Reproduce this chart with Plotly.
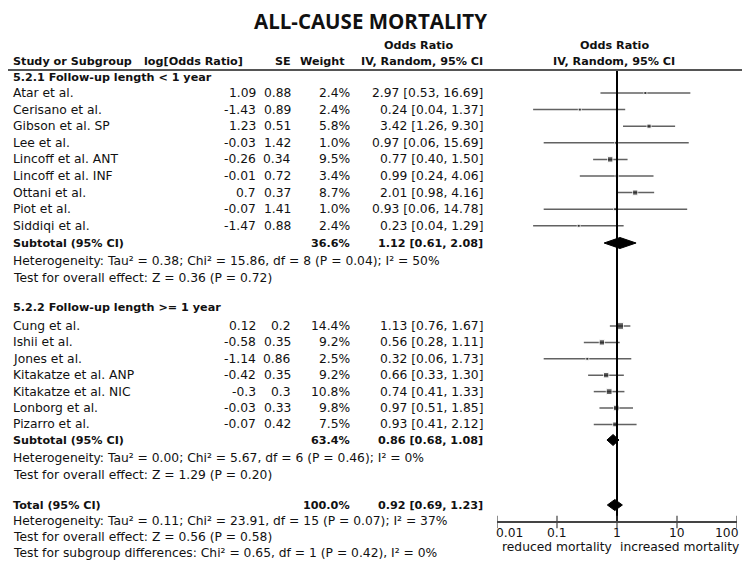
import math
import plotly.graph_objects as go

# ---------------- data ----------------
title = "ALL-CAUSE MORTALITY"

g1_label = "5.2.1 Follow-up length < 1 year"
g1_studies = ["Atar et al.", "Cerisano et al.", "Gibson et al. SP", "Lee et al.",
              "Lincoff et al. ANT", "Lincoff et al. INF", "Ottani et al.", "Piot et al.",
              "Siddiqi et al."]
g1_logor = [1.09, -1.43, 1.23, -0.03, -0.26, -0.01, 0.7, -0.07, -1.47]
g1_se = [0.88, 0.89, 0.51, 1.42, 0.34, 0.72, 0.37, 1.41, 0.88]
g1_weight = [2.4, 2.4, 5.8, 1.0, 9.5, 3.4, 8.7, 1.0, 2.4]
g1_or = [2.97, 0.24, 3.42, 0.97, 0.77, 0.99, 2.01, 0.93, 0.23]
g1_lo = [0.53, 0.04, 1.26, 0.06, 0.40, 0.24, 0.98, 0.06, 0.04]
g1_hi = [16.69, 1.37, 9.30, 15.69, 1.50, 4.06, 4.16, 14.78, 1.29]
g1_sub = {"weight": 36.6, "or": 1.12, "lo": 0.61, "hi": 2.08}
g1_het = "Heterogeneity: Tau² = 0.38; Chi² = 15.86, df = 8 (P = 0.04); I² = 50%"
g1_test = "Test for overall effect: Z = 0.36 (P = 0.72)"

g2_label = "5.2.2 Follow-up length >= 1 year"
g2_studies = ["Cung et al.", "Ishii et al.", "Jones et al.", "Kitakatze et al. ANP",
              "Kitakatze et al. NIC", "Lonborg et al.", "Pizarro et al."]
g2_logor = [0.12, -0.58, -1.14, -0.42, -0.3, -0.03, -0.07]
g2_se = [0.2, 0.35, 0.86, 0.35, 0.3, 0.33, 0.42]
g2_weight = [14.4, 9.2, 2.5, 9.2, 10.8, 9.8, 7.5]
g2_or = [1.13, 0.56, 0.32, 0.66, 0.74, 0.97, 0.93]
g2_lo = [0.76, 0.28, 0.06, 0.33, 0.41, 0.51, 0.41]
g2_hi = [1.67, 1.11, 1.73, 1.30, 1.33, 1.85, 2.12]
g2_sub = {"weight": 63.4, "or": 0.86, "lo": 0.68, "hi": 1.08}
g2_het = "Heterogeneity: Tau² = 0.00; Chi² = 5.67, df = 6 (P = 0.46); I² = 0%"
g2_test = "Test for overall effect: Z = 1.29 (P = 0.20)"

total = {"weight": 100.0, "or": 0.92, "lo": 0.69, "hi": 1.23}
total_het = "Heterogeneity: Tau² = 0.11; Chi² = 23.91, df = 15 (P = 0.07); I² = 37%"
total_test = "Test for overall effect: Z = 0.56 (P = 0.58)"
subgroup_test = "Test for subgroup differences: Chi² = 0.65, df = 1 (P = 0.42), I² = 0%"

tick_vals = [0.01, 0.1, 1, 10, 100]
tick_text = ["0.01", "0.1", "1", "10", "100"]
favours_left = "reduced mortality"
favours_right = "increased mortality"

# ---------------- layout (positions in page pixels) ----------------
PAGE_W, PAGE_H = 750, 565
OFF = 8                       # the page body margin the figure sits in
W, H = PAGE_W - OFF, PAGE_H - OFF
FONT = "DejaVu Sans"
FS = 12.3
FSB = 11.2
TXT = "#111111"
X_NAME, X_LOGOR, X_SE, X_W, X_CI = 11, 258, 293, 352, 485
X_HDR_CI, X_HDR_PLOT = 418, 614

Y_TITLE, Y_HDR1, Y_HDR2, Y_LINE = 21, 45, 61, 70
Y_G1LAB = 77
Y_G1 = [93 + i * 16.6 for i in range(len(g1_studies))]
Y_SUB1, Y_HET1, Y_TEST1 = 243, 261, 278
Y_G2LAB = 307
Y_G2 = [326 + i * 16.4 for i in range(len(g2_studies))]
Y_SUB2, Y_HET2, Y_TEST2 = 440, 458, 475
Y_TOT, Y_HETT, Y_TESTT, Y_SUBG = 505, 521, 537, 553
Y_AXIS, Y_TICKLAB, Y_FAV = 522, 533, 547
DIAMOND_H = 5.5
PLOT_X0, PLOT_X1 = 497, 737


def px(x):
    return (x - OFF) / W


fig = go.Figure()
ann = []


def txt(x, y, s, anchor="left", bold=False, size=None, family=FONT):
    if size is None:
        size = FSB if bold else FS
    ann.append(dict(x=px(x), y=y, xref="paper", yref="y", text=("<b>%s</b>" % s) if bold else s,
                    showarrow=False, xanchor=anchor, yanchor="middle",
                    font=dict(family=family, size=size, color=TXT)))


def fmt_ci(o, l, h):
    return "%.2f [%.2f, %.2f]" % (o, l, h)


# title + header
txt(370, Y_TITLE, title, anchor="center", bold=True, size=20.5, family="Open Sans")
txt(X_HDR_CI, Y_HDR1, "Odds Ratio", anchor="center", bold=True)
txt(X_HDR_PLOT, Y_HDR1, "Odds Ratio", anchor="center", bold=True)
txt(X_NAME, Y_HDR2, "Study or Subgroup", bold=True)
txt(245, Y_HDR2, "log[Odds Ratio]", anchor="right", bold=True)
txt(293, Y_HDR2, "SE", anchor="right", bold=True)
txt(347, Y_HDR2, "Weight", anchor="right", bold=True)
txt(X_CI, Y_HDR2, "IV, Random, 95% CI", anchor="right", bold=True)
txt(X_HDR_PLOT, Y_HDR2, "IV, Random, 95% CI", anchor="center", bold=True)


def diamond(s, y):
    fig.add_trace(go.Scatter(x=[s["lo"], s["or"], s["hi"], s["or"], s["lo"]],
                             y=[y, y - DIAMOND_H, y, y + DIAMOND_H, y],
                             mode="lines", fill="toself", fillcolor="black",
                             line=dict(color="black", width=1), showlegend=False))


def group(label, ylab, names, lor, se, w, o, lo, hi, ys, sub, ysub, het, yhet, test, ytest):
    txt(X_NAME, ylab, label, bold=True)
    for i, n in enumerate(names):
        y = ys[i]
        txt(X_NAME, y, n)
        txt(X_LOGOR, y, str(lor[i]), anchor="right")
        txt(X_SE, y, str(se[i]), anchor="right")
        txt(X_W, y, "%.1f%%" % w[i], anchor="right")
        txt(X_CI, y, fmt_ci(o[i], lo[i], hi[i]), anchor="right")
    txt(X_NAME, ysub, "Subtotal (95% CI)", bold=True)
    txt(X_W, ysub, "%.1f%%" % sub["weight"], anchor="right", bold=True)
    txt(X_CI, ysub, fmt_ci(sub["or"], sub["lo"], sub["hi"]), anchor="right", bold=True)
    txt(X_NAME, yhet, het)
    txt(X_NAME, ytest, test)
    lx, ly = [], []
    for i in range(len(names)):
        lx += [lo[i], hi[i], None]
        ly += [ys[i], ys[i], None]
    fig.add_trace(go.Scatter(x=lx, y=ly, mode="lines", line=dict(color="#626262", width=1.5),
                             hoverinfo="skip", showlegend=False))
    fig.add_trace(go.Scatter(x=o, y=ys, mode="markers",
                             marker=dict(symbol="square", color="#1e1e1e",
                                         size=[max(3.0, 1.75 * wi ** 0.5) for wi in w]),
                             showlegend=False))
    diamond(sub, ysub)


group(g1_label, Y_G1LAB, g1_studies, g1_logor, g1_se, g1_weight, g1_or, g1_lo, g1_hi, Y_G1,
      g1_sub, Y_SUB1, g1_het, Y_HET1, g1_test, Y_TEST1)
group(g2_label, Y_G2LAB, g2_studies, g2_logor, g2_se, g2_weight, g2_or, g2_lo, g2_hi, Y_G2,
      g2_sub, Y_SUB2, g2_het, Y_HET2, g2_test, Y_TEST2)

txt(X_NAME, Y_TOT, "Total (95% CI)", bold=True)
txt(X_W, Y_TOT, "%.1f%%" % total["weight"], anchor="right", bold=True)
txt(X_CI, Y_TOT, fmt_ci(total["or"], total["lo"], total["hi"]), anchor="right", bold=True)
txt(X_NAME, Y_HETT, total_het)
txt(X_NAME, Y_TESTT, total_test)
txt(X_NAME, Y_SUBG, subgroup_test)
diamond(total, Y_TOT)

# line of no effect
fig.add_trace(go.Scatter(x=[1, 1], y=[Y_LINE, Y_AXIS], mode="lines",
                         line=dict(color="black", width=2), showlegend=False))
# axis ticks crossing the axis line
fig.add_trace(go.Scatter(x=tick_vals, y=[Y_AXIS] * len(tick_vals), mode="markers",
                         marker=dict(symbol="line-ns", size=9, line=dict(color="#444444", width=1.2)),
                         showlegend=False))
# tick labels (end labels pulled inward, as in the original); log axis -> log10 positions
for i, (v, t) in enumerate(zip(tick_vals, tick_text)):
    anchor = "left" if i == 0 else ("right" if i == len(tick_vals) - 1 else "center")
    ann.append(dict(x=math.log10(v), y=Y_TICKLAB, xref="x", yref="y", text=t, showarrow=False,
                    xanchor=anchor, yanchor="middle",
                    xshift=-3 if anchor == "left" else (3 if anchor == "right" else 0),
                    font=dict(family=FONT, size=FS, color=TXT)))

txt(557, Y_FAV, favours_left, anchor="center")
txt(679, Y_FAV, favours_right, anchor="center")

fig.update_layout(
    template="none",
    width=W, height=H, margin=dict(l=0, r=0, t=0, b=0, pad=0),
    paper_bgcolor="white", plot_bgcolor="rgba(0,0,0,0)",
    annotations=ann, showlegend=False,
    shapes=[dict(type="line", xref="paper", yref="y", x0=0, x1=px(747), y0=Y_LINE, y1=Y_LINE,
                 line=dict(color="#555555", width=2))],
    xaxis=dict(type="log", range=[-2, 2], domain=[px(PLOT_X0), px(PLOT_X1)], anchor="free",
               position=(PAGE_H - Y_AXIS) / H, showline=True, linecolor="#444444", linewidth=1.5,
               showgrid=False, zeroline=False, ticks="", showticklabels=False,
               automargin=False, fixedrange=True),
    yaxis=dict(range=[PAGE_H, OFF], domain=[0, 1], visible=False, automargin=False, fixedrange=True),
)

fig.write_html("out.html")
